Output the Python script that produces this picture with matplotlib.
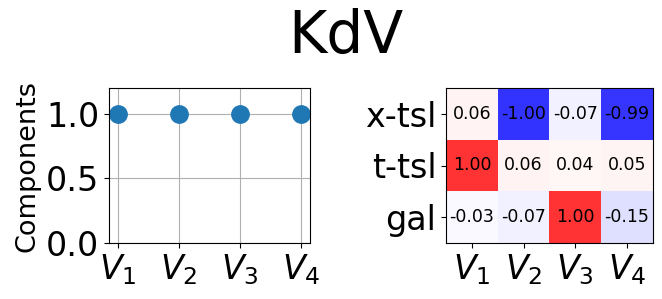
import matplotlib
matplotlib.use("Agg")
import matplotlib.pyplot as plt
import numpy as np

components = [1.0, 1.0, 1.0, 1.0]
var_labels = ["$V_1$", "$V_2$", "$V_3$", "$V_4$"]
sym_labels = ["x-tsl", "t-tsl", "gal"]
coef = np.array([
    [0.06, -1.00, -0.07, -0.99],
    [1.00, 0.06, 0.04, 0.05],
    [-0.03, -0.07, 1.00, -0.15],
])

fig = plt.figure(figsize=(6.62, 2.99), dpi=100)
fig.suptitle("KdV", fontsize=42, x=0.523, y=1 - 53 / 299, va="baseline")

ax1 = fig.add_axes([109 / 662, 1 - 243 / 299, 201 / 662, 155 / 299])
ax1.plot(range(len(components)), components, "o", ms=12.5, color="tab:blue")
ax1.set_ylim(0, 1.2)
ax1.set_yticks([0.0, 0.5, 1.0])
ax1.set_xticks(range(len(var_labels)))
ax1.set_xticklabels(var_labels)
ax1.tick_params(labelsize=24)
ax1.set_ylabel("Components", fontsize=19.5)
ax1.grid(True)

ax2 = fig.add_axes([446 / 662, 1 - 243 / 299, 207 / 662, 155 / 299])
ax2.imshow(coef, cmap="bwr", vmin=-1, vmax=1, alpha=0.8)
for i in range(coef.shape[0]):
    for j in range(coef.shape[1]):
        ax2.text(j, i, f"{coef[i, j]:.2f}", ha="center", va="center", fontsize=12.5)
ax2.set_xticks(range(len(var_labels)))
ax2.set_xticklabels(var_labels)
ax2.set_yticks(range(len(sym_labels)))
ax2.set_yticklabels(sym_labels)
ax2.tick_params(labelsize=24)

fig.savefig("out.png", dpi=100)
